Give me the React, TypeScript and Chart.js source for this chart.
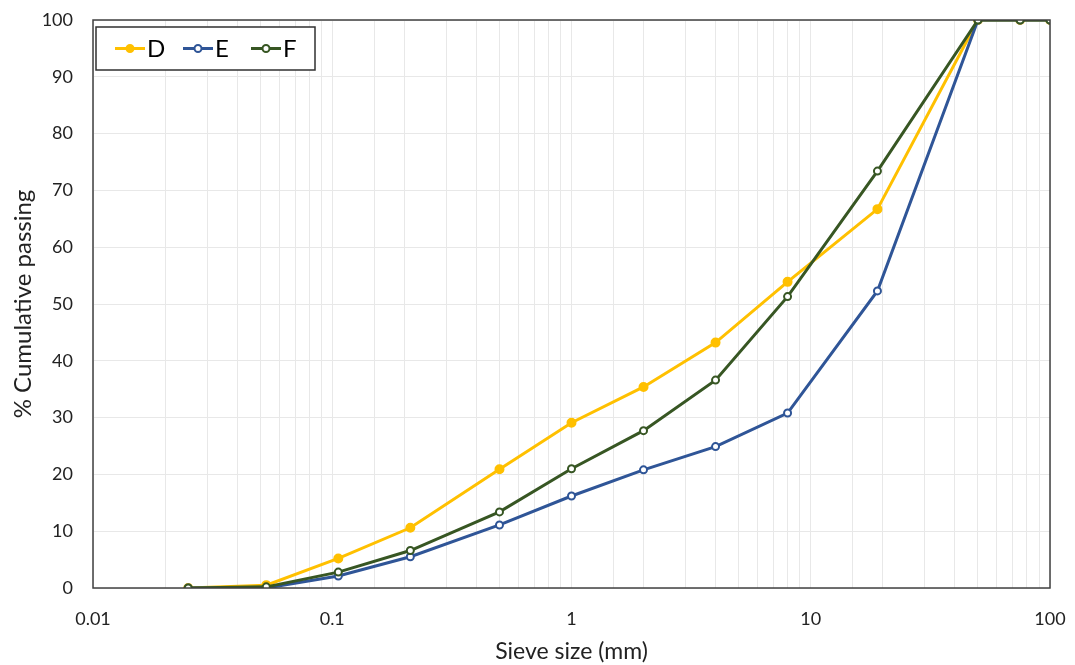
import React, { useEffect, useRef } from "react";
import { Chart, registerables } from "chart.js";

Chart.register(...registerables);

const sieveSizes = [0.025, 0.053, 0.106, 0.212, 0.5, 1, 2, 4, 8, 19, 50, 75, 100];
const seriesD = [0, 0.5, 5.2, 10.6, 20.9, 29.1, 35.4, 43.2, 53.9, 66.7, 100, 100, 100];
const seriesE = [0, 0, 2.1, 5.5, 11.1, 16.2, 20.8, 24.9, 30.8, 52.3, 100, 100, 100];
const seriesF = [0, 0.2, 2.8, 6.6, 13.4, 21.0, 27.7, 36.6, 51.3, 73.4, 100, 100, 100];
const seriesLabels = ["D", "E", "F"];
const xTickLabels = ["0.01", "0.1", "1", "10", "100"];

const FONT = "Lato, 'Liberation Sans', Arial, sans-serif";
const colors = ["#FFC000", "#2F5597", "#375623"];

const toPoints = (ys: number[]) => sieveSizes.map((x, i) => ({ x, y: ys[i] }));

const borderPlugin = {
  id: "plotBorder",
  afterDraw(chart: any) {
    const { ctx, chartArea } = chart;
    ctx.save();
    ctx.strokeStyle = "#404040";
    ctx.lineWidth = 1.5;
    ctx.strokeRect(chartArea.left, chartArea.top, chartArea.right - chartArea.left, chartArea.bottom - chartArea.top);
    ctx.restore();
  },
};

const legendPlugin = {
  id: "customLegend",
  afterDraw(chart: any) {
    const { ctx, chartArea } = chart;
    const bx = chartArea.left + 3;
    const by = chartArea.top + 7;
    const bw = 219;
    const bh = 43;
    ctx.save();
    ctx.fillStyle = "#ffffff";
    ctx.fillRect(bx, by, bw, bh);
    ctx.strokeStyle = "#303030";
    ctx.lineWidth = 1.5;
    ctx.strokeRect(bx, by, bw, bh);
    const cy = by + bh / 2;
    chart.data.datasets.forEach((ds: any, i: number) => {
      const x0 = bx + 19 + i * 68;
      ctx.strokeStyle = ds.borderColor;
      ctx.lineWidth = 3;
      ctx.beginPath();
      ctx.moveTo(x0, cy);
      ctx.lineTo(x0 + 30, cy);
      ctx.stroke();
      ctx.beginPath();
      ctx.arc(x0 + 15, cy, 3.5, 0, Math.PI * 2);
      ctx.fillStyle = ds.pointBackgroundColor;
      ctx.fill();
      ctx.lineWidth = 2;
      ctx.strokeStyle = ds.borderColor;
      ctx.stroke();
      ctx.fillStyle = "#000000";
      ctx.font = `24px ${FONT}`;
      ctx.textBaseline = "middle";
      ctx.textAlign = "left";
      ctx.fillText(ds.label, x0 + 32, cy + 1);
    });
    ctx.restore();
  },
};

export default function App() {
  const ref = useRef<HTMLCanvasElement | null>(null);
  useEffect(() => {
    if (!ref.current) return;
    const all = [seriesD, seriesE, seriesF];
    const chart = new Chart(ref.current, {
      type: "line",
      data: {
        datasets: all.map((ys, i) => ({
          label: seriesLabels[i],
          data: toPoints(ys),
          borderColor: colors[i],
          backgroundColor: colors[i],
          pointBackgroundColor: i === 0 ? colors[i] : "#ffffff",
          pointBorderColor: colors[i],
          pointBorderWidth: 2,
          pointRadius: i === 0 ? 4 : 3.5,
          borderWidth: 3,
          tension: 0,
          order: 3 - i,
        })),
      },
      options: {
        responsive: false,
        animation: false,
        events: [],
        layout: { padding: { top: 20, right: 25, left: 0, bottom: 0 } },
        plugins: { legend: { display: false }, tooltip: { enabled: false } },
        scales: {
          x: {
            type: "logarithmic",
            min: 0.01,
            max: 100,
            grid: { color: "#e8e8e8", lineWidth: 1, drawTicks: true, tickLength: 18, tickColor: "rgba(0,0,0,0)" },
            border: { display: false },
            ticks: {
              autoSkip: false,
              maxRotation: 0,
              padding: 2,
              color: "#222",
              font: { family: FONT, size: 18 },
              callback: (v: any) => {
                const l = Math.log10(Number(v));
                if (Math.abs(l - Math.round(l)) < 1e-6) {
                  const idx = Math.round(l) + 2;
                  return xTickLabels[idx] ?? "";
                }
                return "";
              },
            },
            title: {
              display: true,
              text: "Sieve size (mm)",
              color: "#222",
              font: { family: FONT, size: 23 },
              padding: { top: 4, bottom: 0 },
            },
            afterFit: (s: any) => {
              s.height = 77;
            },
          },
          y: {
            type: "linear",
            min: 0,
            max: 100,
            grid: { color: "#e8e8e8", lineWidth: 1, drawTicks: true, tickLength: 18, tickColor: "rgba(0,0,0,0)" },
            border: { display: false },
            ticks: {
              stepSize: 10,
              padding: 2,
              color: "#222",
              font: { family: FONT, size: 18 },
            },
            title: {
              display: true,
              text: "% Cumulative passing",
              color: "#222",
              font: { family: FONT, size: 24 },
              padding: { top: 9, bottom: 4 },
            },
            afterFit: (s: any) => {
              s.width = 93;
            },
          },
        },
      },
      plugins: [borderPlugin, legendPlugin],
    } as any);
    return () => chart.destroy();
  }, []);
  return (
    <div style={{ position: "fixed", left: 0, top: 0, width: 1075, height: 665, background: "#fff" }}>
      <canvas ref={ref} width={1075} height={665} style={{ display: "block" }} />
    </div>
  );
}
